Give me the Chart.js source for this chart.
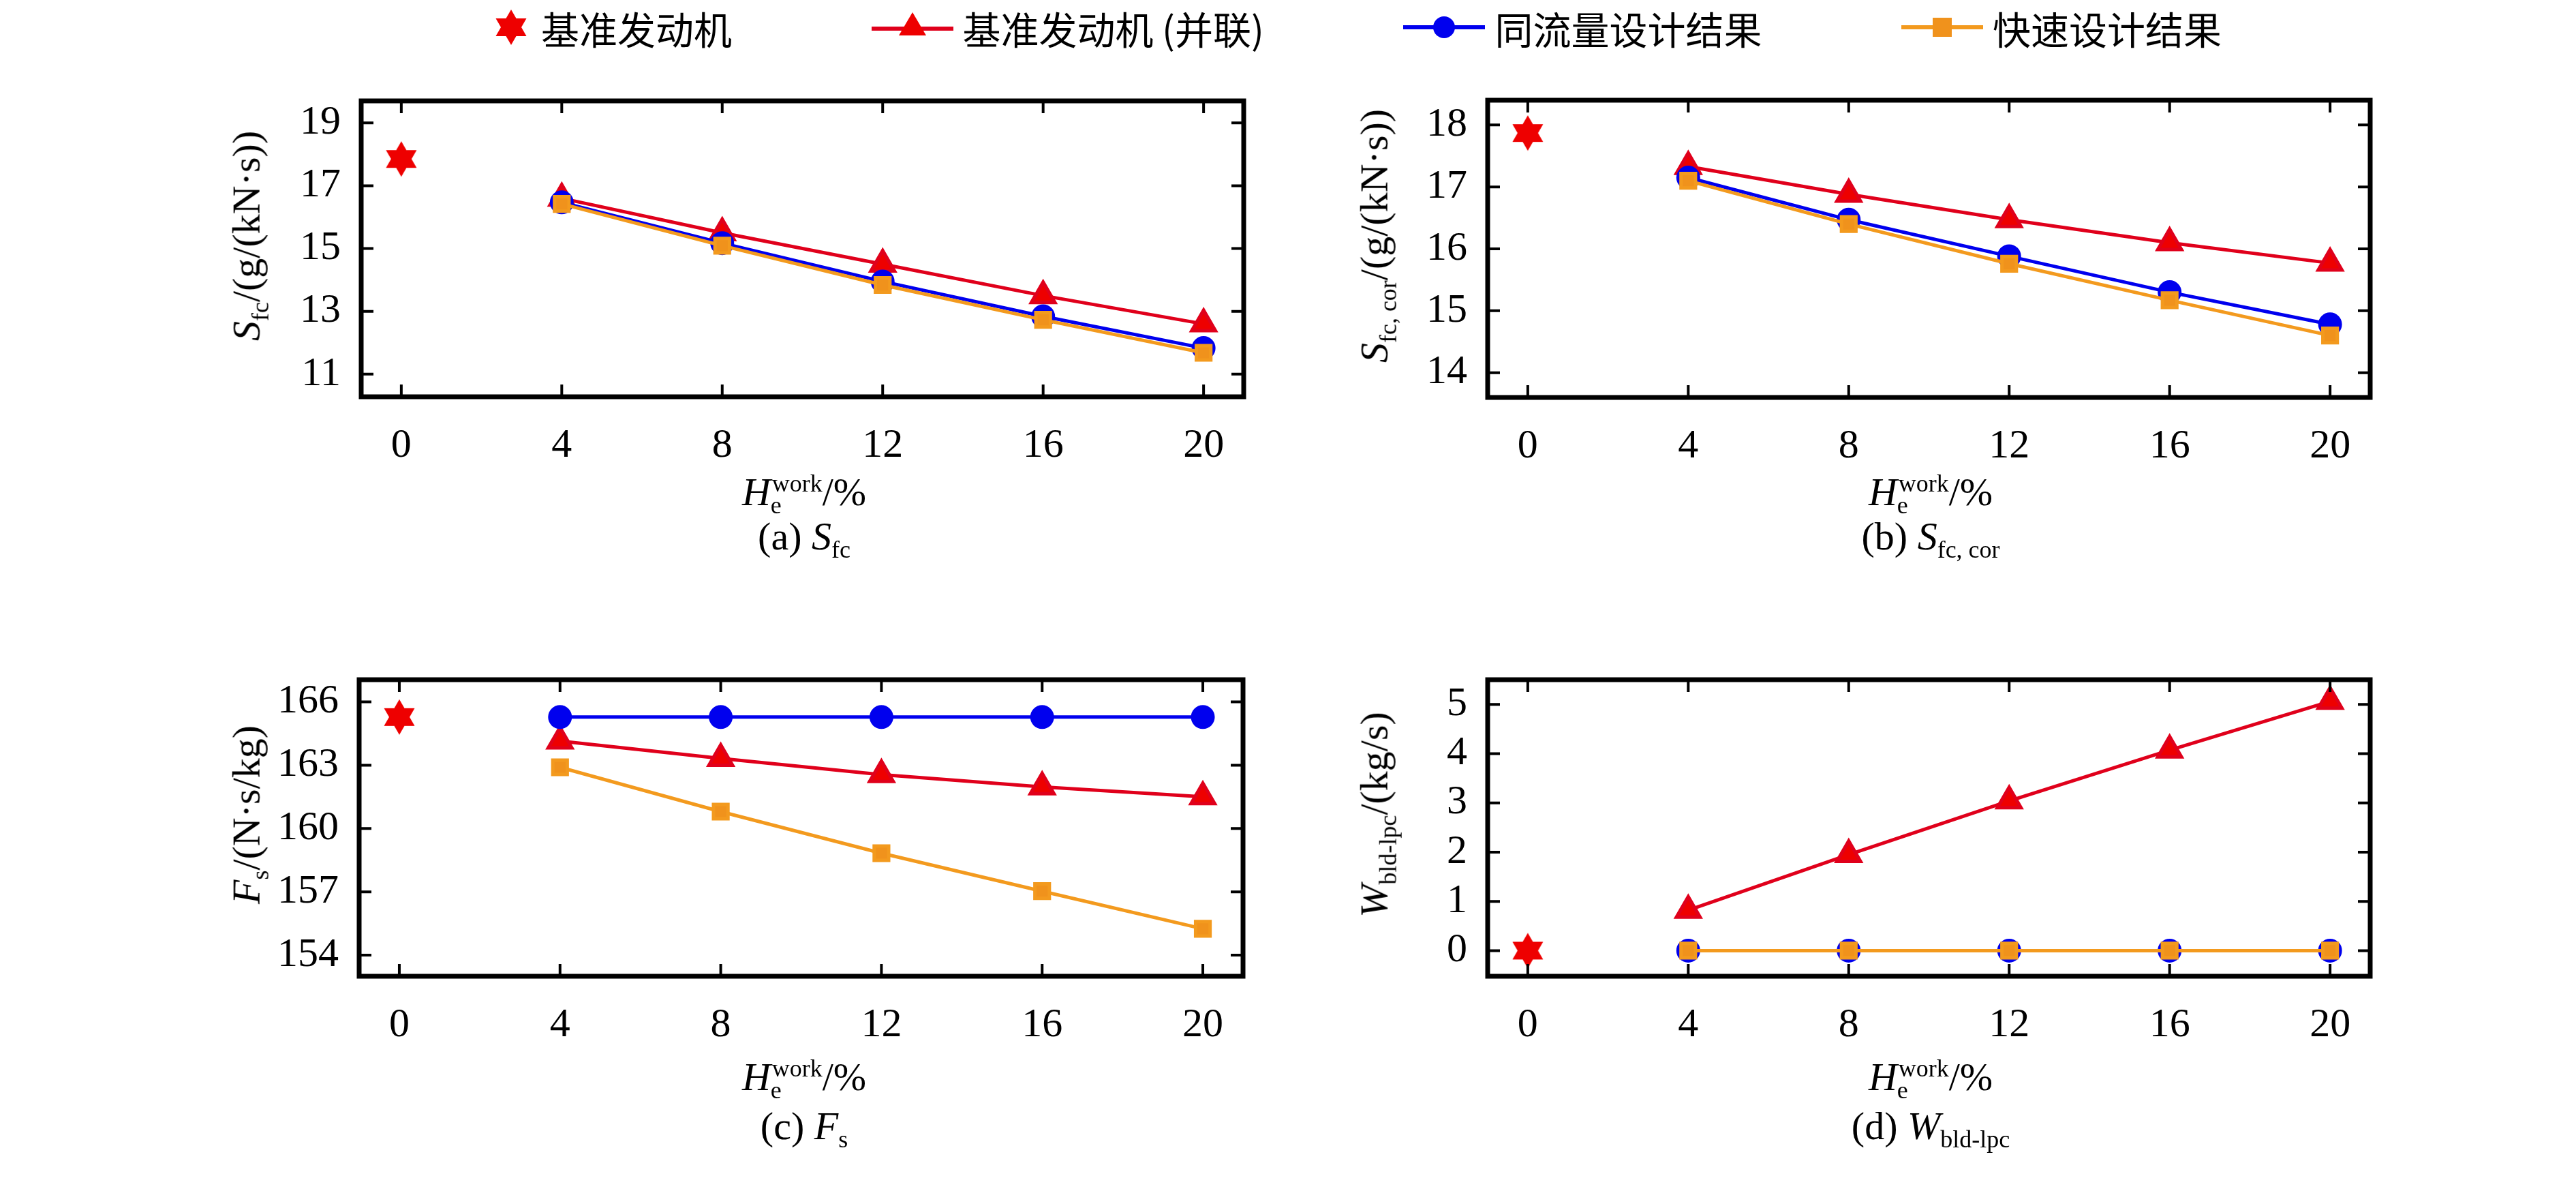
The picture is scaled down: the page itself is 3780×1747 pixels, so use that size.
<!DOCTYPE html>
<html>
<head>
<meta charset="utf-8">
<script src="https://cdn.jsdelivr.net/npm/chart.js@4"></script>
<style>
  body { margin: 0; background: #fff; width: 3780px; height: 1747px; position: relative; overflow: hidden;
         font-family: "Liberation Serif", "Noto Sans CJK SC", serif; color: #000; }
  canvas { position: absolute; }
  .t { position: absolute; font-size: 58px; white-space: nowrap; transform: translate(-50%, -50%); }
  .yt { transform: translate(-50%, -50%) rotate(-90deg); }
  .legend { position: absolute; top: 0; left: 720px; width: 2540px; height: 80px; display: flex;
            align-items: center; justify-content: space-between; font-size: 56px;
            font-family: "Noto Sans CJK SC", "Liberation Serif", serif; }
  .legend span { display: flex; align-items: center; gap: 14px; }
  sub, sup { font-size: 62%; }
</style>
</head>
<body>
<div class="legend">
  <span><svg width="60" height="60" viewBox="-30 -30 60 60"><polygon points="0,-26 22.5,13 -22.5,13" fill="#ee0000"/><polygon points="0,26 22.5,-13 -22.5,-13" fill="#ee0000"/></svg>基准发动机</span>
  <span><svg width="120" height="60" viewBox="0 0 120 60"><line x1="0" y1="32" x2="120" y2="32" stroke="#e0001b" stroke-width="6"/><polygon points="60,8 80,42 40,42" fill="#ee0000"/></svg>基准发动机 (并联)</span>
  <span><svg width="120" height="60" viewBox="0 0 120 60"><line x1="0" y1="30" x2="120" y2="30" stroke="#0000ee" stroke-width="6"/><circle cx="60" cy="30" r="16" fill="#0000ee"/></svg>同流量设计结果</span>
  <span><svg width="120" height="60" viewBox="0 0 120 60"><line x1="0" y1="30" x2="120" y2="30" stroke="#f39a1e" stroke-width="6"/><rect x="46" y="16" width="28" height="28" fill="#f0921c"/></svg>快速设计结果</span>
</div>

<canvas id="ca"></canvas><canvas id="cb"></canvas><canvas id="cc"></canvas><canvas id="cd"></canvas>

<div class="t yt" style="left:365px;top:346px"><i>S</i><sub>fc</sub>/(g/(kN·s))</div>
<div class="t yt" style="left:2020px;top:346px"><i>S</i><sub>fc, cor</sub>/(g/(kN·s))</div>
<div class="t yt" style="left:365px;top:1195px"><i>F</i><sub>s</sub>/(N·s/kg)</div>
<div class="t yt" style="left:2020px;top:1195px"><i>W</i><sub>bld-lpc</sub>/(kg/s)</div>

<div class="t" style="left:1180px;top:725px"><i>H</i><sub>e</sub><sup style="margin-left:-14px">work</sup>/%</div>
<div class="t" style="left:2833px;top:725px"><i>H</i><sub>e</sub><sup style="margin-left:-14px">work</sup>/%</div>
<div class="t" style="left:1180px;top:1583px"><i>H</i><sub>e</sub><sup style="margin-left:-14px">work</sup>/%</div>
<div class="t" style="left:2833px;top:1583px"><i>H</i><sub>e</sub><sup style="margin-left:-14px">work</sup>/%</div>

<div class="t" style="left:1180px;top:790px">(a) <i>S</i><sub>fc</sub></div>
<div class="t" style="left:2833px;top:790px">(b) <i>S</i><sub>fc, cor</sub></div>
<div class="t" style="left:1180px;top:1655px">(c) <i>F</i><sub>s</sub></div>
<div class="t" style="left:2833px;top:1655px">(d) <i>W</i><sub>bld-lpc</sub></div>

<script>
const xDesign = [4, 8, 12, 16, 20];
const xBase = [0];
const xTicks = [0, 4, 8, 12, 16, 20];

const sfcBase = [17.85];
const sfcParallel = [16.6, 15.5, 14.5, 13.5, 12.6];
const sfcSameFlow = [16.47, 15.17, 13.95, 12.84, 11.83];
const sfcQuick = [16.42, 15.09, 13.84, 12.73, 11.68];
const sfcTicks = [11, 13, 15, 17, 19];

const corBase = [17.87];
const corParallel = [17.33, 16.88, 16.47, 16.1, 15.77];
const corSameFlow = [17.15, 16.47, 15.88, 15.3, 14.78];
const corQuick = [17.1, 16.4, 15.76, 15.17, 14.6];
const corTicks = [14, 15, 16, 17, 18];

const fsBase = [165.28];
const fsParallel = [164.14, 163.32, 162.55, 161.97, 161.5];
const fsSameFlow = [165.28, 165.28, 165.28, 165.28, 165.28];
const fsQuick = [162.9, 160.8, 158.83, 157.03, 155.25];
const fsTicks = [154, 157, 160, 163, 166];

const wBase = [0];
const wParallel = [0.82, 1.95, 3.04, 4.07, 5.06];
const wSameFlow = [0, 0, 0, 0, 0];
const wQuick = [0, 0, 0, 0, 0];
const wTicks = [0, 1, 2, 3, 4, 5];

function hexagram(r, color) {
  const c = document.createElement('canvas');
  c.width = c.height = 2 * r + 4;
  const g = c.getContext('2d');
  g.translate(r + 2, r + 2);
  g.fillStyle = color;
  [1, -1].forEach(s => {
    g.beginPath();
    g.moveTo(0, -s * r);
    g.lineTo(r * 0.866, s * r / 2);
    g.lineTo(-r * 0.866, s * r / 2);
    g.closePath();
    g.fill();
  });
  return c;
}
const star = hexagram(26, '#ee0000');

// black frame with inward ticks on all four sides
const frame = {
  id: 'frame',
  afterDraw(chart) {
    const { ctx, chartArea: a, scales } = chart;
    ctx.save();
    ctx.strokeStyle = '#000';
    ctx.lineWidth = 4;
    scales.x.ticks.forEach(t => {
      const x = scales.x.getPixelForValue(t.value);
      ctx.beginPath(); ctx.moveTo(x, a.bottom); ctx.lineTo(x, a.bottom - 18);
      ctx.moveTo(x, a.top); ctx.lineTo(x, a.top + 18); ctx.stroke();
    });
    scales.y.ticks.forEach(t => {
      const y = scales.y.getPixelForValue(t.value);
      ctx.beginPath(); ctx.moveTo(a.left, y); ctx.lineTo(a.left + 18, y);
      ctx.moveTo(a.right, y); ctx.lineTo(a.right - 18, y); ctx.stroke();
    });
    ctx.lineWidth = 7;
    ctx.strokeRect(a.left, a.top, a.right - a.left, a.bottom - a.top);
    ctx.restore();
  }
};

function panel(id, box, base, par, same, quick, yMin, yMax, yTicks) {
  const cv = document.getElementById(id);
  const padL = 200, padT = 20, padR = 20, padB = 130;
  const w = box.r - box.l + padL + padR, h = box.b - box.t + padT + padB;
  cv.width = w; cv.height = h;
  cv.style.left = (box.l - padL) + 'px'; cv.style.top = (box.t - padT) + 'px';
  cv.style.width = w + 'px'; cv.style.height = h + 'px';
  const pts = (xs, ys) => xs.map((x, i) => ({ x: x, y: ys[i] }));
  new Chart(cv, {
    type: 'line',
    data: {
      datasets: [
        { data: pts(xDesign, quick), borderColor: '#f39a1e', backgroundColor: '#f0921c', borderWidth: 5,
          pointStyle: 'rect', pointRadius: 15 },
        { data: pts(xDesign, same), borderColor: '#0000ee', backgroundColor: '#0000ee', borderWidth: 5,
          pointStyle: 'circle', pointRadius: 15 },
        { data: pts(xDesign, par), borderColor: '#e0001b', backgroundColor: '#ee0000', borderWidth: 5,
          pointStyle: 'triangle', pointRadius: 20 },
        { data: pts(xBase, base), showLine: false, pointStyle: star }
      ].reverse().reverse()
    },
    options: {
      responsive: false,
      animation: false,
      devicePixelRatio: 1,
      layout: { padding: { left: 10, top: padT, right: padR, bottom: 10 } },
      plugins: { legend: { display: false }, tooltip: { enabled: false } },
      scales: {
        x: {
          type: 'linear', min: -1, max: 21,
          afterBuildTicks: s => { s.ticks = xTicks.map(v => ({ value: v })); },
          afterFit: s => { s.height = padB - 10; },
          grid: { display: false }, border: { display: false },
          ticks: { font: { family: 'Liberation Serif', size: 60 }, color: '#000', padding: 28 }
        },
        y: {
          min: yMin, max: yMax,
          afterBuildTicks: s => { s.ticks = yTicks.map(v => ({ value: v })); },
          afterFit: s => { s.width = padL - 10; },
          grid: { display: false }, border: { display: false },
          ticks: { font: { family: 'Liberation Serif', size: 60 }, color: '#000', padding: 22 }
        }
      }
    },
    plugins: [frame]
  });
}

panel('ca', { l: 530, r: 1830, t: 110, b: 582 }, sfcBase, sfcParallel, sfcSameFlow, sfcQuick, 10.28, 19.7, sfcTicks);
panel('cb', { l: 2183, r: 3483, t: 109, b: 583 }, corBase, corParallel, corSameFlow, corQuick, 13.6, 18.4, corTicks);
panel('cc', { l: 527, r: 1829, t: 959, b: 1432 }, fsBase, fsParallel, fsSameFlow, fsQuick, 153.0, 167.05, fsTicks);
panel('cd', { l: 2183, r: 3483, t: 959, b: 1432 }, wBase, wParallel, wSameFlow, wQuick, -0.52, 5.5, wTicks);
</script>
</body>
</html>
